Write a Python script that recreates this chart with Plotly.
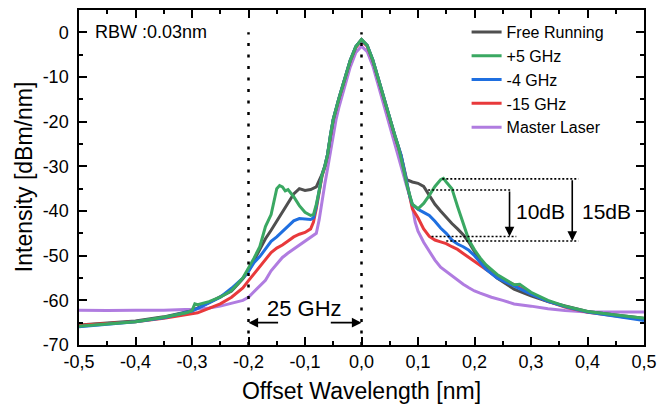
import plotly.graph_objects as go

# ---------------- data ----------------
free_x = [-0.50, -0.45, -0.40, -0.35, -0.30, -0.27, -0.25, -0.23, -0.21, -0.20, -0.19, -0.18, -0.17,
          -0.16, -0.15, -0.14, -0.13, -0.12, -0.11, -0.10, -0.09, -0.08, -0.07, -0.065, -0.06, -0.055,
          -0.05, -0.04, -0.03, -0.02, -0.01, 0.0, 0.01, 0.02, 0.03, 0.04, 0.05, 0.06, 0.07, 0.075, 0.08,
          0.09, 0.10, 0.11, 0.12, 0.13, 0.14, 0.15, 0.16, 0.17, 0.18, 0.19, 0.20, 0.21, 0.22, 0.24,
          0.27, 0.30, 0.33, 0.36, 0.40, 0.45, 0.50]
free_y = [-65.5, -65.1, -64.6, -63.7, -62.3, -60.5, -59.2, -57.9, -55.2, -53.5, -51.0, -48.5, -46.2,
          -44.3, -42.3, -40.5, -38.5, -36.2, -35.0, -35.4, -35.2, -34.6, -31.8, -30.0, -27.3, -23.0,
          -19.5, -14.8, -10.5, -6.3, -3.2, -1.6, -2.9, -6.2, -10.5, -15.0, -19.5, -23.5, -27.5, -30.5, -33.0,
          -33.5, -33.8, -34.5, -36.5, -38.5, -40.0, -41.5, -42.8, -44.0, -45.3, -47.0, -49.2, -51.2, -52.8, -55.0,
          -57.5, -59.0, -60.3, -61.3, -62.5, -63.3, -64.0]

p5_x = [-0.50, -0.45, -0.40, -0.35, -0.31, -0.30, -0.295, -0.29, -0.27, -0.25, -0.23, -0.21, -0.20,
        -0.19, -0.18, -0.175, -0.17, -0.16, -0.155, -0.15, -0.145, -0.14, -0.135, -0.13, -0.12, -0.11,
        -0.10, -0.09, -0.085, -0.08, -0.075, -0.07, -0.065, -0.06, -0.055, -0.05, -0.04, -0.03, -0.02,
        -0.01, 0.0, 0.01, 0.02, 0.03, 0.04, 0.05, 0.06, 0.065, 0.07, 0.075, 0.08, 0.085, 0.09, 0.10,
        0.105, 0.11, 0.12, 0.13, 0.14, 0.145, 0.15, 0.16, 0.17, 0.18, 0.19, 0.20, 0.21, 0.22, 0.24,
        0.27, 0.28, 0.30, 0.33, 0.36, 0.40, 0.45, 0.50]
p5_y = [-65.8, -65.3, -64.8, -63.8, -62.8, -62.3, -60.8, -61.0, -60.3, -59.3, -57.8, -55.0, -52.8,
        -50.5, -48.0, -46.0, -43.5, -40.8, -37.5, -35.0, -34.3, -34.6, -35.5, -35.2, -36.8, -38.8,
        -40.3, -41.0, -40.8, -38.5, -35.5, -32.0, -30.0, -27.3, -23.0, -19.5, -14.8, -10.5, -6.3,
        -3.2, -1.6, -2.9, -6.2, -10.5, -15.0, -19.5, -23.5, -25.5, -28.0, -31.0, -34.0, -36.5, -38.5, -39.5,
        -39.0, -38.3, -36.5, -34.5, -33.0, -32.7, -33.5, -35.0, -39.0, -42.8, -46.5, -48.7, -50.5, -52.0, -54.2,
        -56.5, -56.4, -58.2, -60.0, -61.3, -62.5, -63.3, -64.0]

m4_x = [-0.50, -0.45, -0.40, -0.35, -0.30, -0.27, -0.25, -0.23, -0.21, -0.20, -0.19, -0.18, -0.17,
        -0.16, -0.15, -0.14, -0.13, -0.12, -0.11, -0.10, -0.09, -0.085, -0.08, -0.075, -0.07, -0.065,
        -0.06, -0.055, -0.05, -0.04, -0.03, -0.02, -0.01, 0.0, 0.01, 0.02, 0.03, 0.04, 0.05, 0.06, 0.07,
        0.075, 0.08, 0.085, 0.09, 0.10, 0.11, 0.12, 0.13, 0.14, 0.15, 0.16, 0.17, 0.18, 0.19, 0.20, 0.21,
        0.22, 0.24, 0.27, 0.30, 0.33, 0.36, 0.40, 0.45, 0.50]
m4_y = [-65.9, -65.4, -64.8, -63.9, -62.4, -60.6, -59.3, -57.3, -55.0, -53.5, -51.5, -50.2, -48.5,
        -46.8, -45.8, -44.6, -43.5, -42.2, -41.7, -41.8, -41.9, -41.5, -39.0, -35.5, -32.0, -30.0,
        -27.3, -23.0, -19.5, -14.8, -10.5, -6.3, -3.2, -1.7, -2.9, -6.2, -10.5, -15.0, -19.5, -23.5, -27.5,
        -30.5, -33.8, -36.5, -38.5, -39.6, -40.3, -41.0, -42.3, -43.8, -45.0, -46.5, -47.4, -48.0, -48.8, -50.0, -51.5,
        -53.0, -55.0, -56.8, -58.6, -60.2, -61.4, -62.6, -63.6, -64.5]

m15_x = [-0.50, -0.45, -0.40, -0.35, -0.31, -0.29, -0.27, -0.25, -0.23, -0.22, -0.21, -0.20, -0.19,
         -0.18, -0.17, -0.16, -0.15, -0.14, -0.13, -0.12, -0.11, -0.10, -0.09, -0.085, -0.08, -0.075,
         -0.07, -0.065, -0.06, -0.055, -0.05, -0.04, -0.03, -0.02, -0.01, 0.0, 0.01, 0.02, 0.03, 0.04,
         0.05, 0.06, 0.07, 0.075, 0.08, 0.085, 0.09, 0.10, 0.11, 0.12, 0.13, 0.14, 0.15, 0.16, 0.17,
         0.18, 0.19, 0.20, 0.21, 0.22, 0.24, 0.27, 0.30, 0.33, 0.36, 0.40, 0.45, 0.50]
m15_y = [-65.6, -65.2, -64.8, -64.0, -63.3, -62.8, -61.8, -60.8, -59.3, -58.3, -57.2, -55.6, -54.0,
         -52.5, -50.8, -49.3, -48.3, -47.6, -46.7, -45.8, -45.2, -44.8, -44.0, -42.5, -39.5, -36.0,
         -32.3, -30.2, -27.5, -23.2, -19.7, -15.0, -10.7, -6.5, -3.4, -1.9, -3.1, -6.4, -10.7, -15.2,
         -19.7, -23.7, -27.7, -30.7, -34.0, -37.0, -39.5, -41.5, -44.0, -45.7, -46.5, -46.9, -47.3, -48.0, -48.6,
         -49.5, -50.4, -51.3, -52.3, -53.2, -54.8, -56.5, -58.5, -60.2, -61.5, -62.7, -63.5, -64.3]

ml_x = [-0.50, -0.45, -0.40, -0.35, -0.30, -0.27, -0.25, -0.23, -0.21, -0.20, -0.19, -0.18, -0.17,
        -0.16, -0.15, -0.14, -0.13, -0.12, -0.11, -0.10, -0.09, -0.08, -0.075, -0.07, -0.065, -0.06,
        -0.055, -0.05, -0.045, -0.04, -0.03, -0.02, -0.01, 0.0, 0.01, 0.02, 0.03, 0.04, 0.05, 0.06,
        0.07, 0.08, 0.085, 0.09, 0.095, 0.10, 0.11, 0.12, 0.13, 0.14, 0.15, 0.16, 0.17, 0.18, 0.19,
        0.20, 0.21, 0.23, 0.25, 0.27, 0.30, 0.33, 0.36, 0.40, 0.45, 0.50]
ml_y = [-62.2, -62.3, -62.2, -62.2, -62.0, -61.7, -61.3, -60.7, -60.0, -59.3, -58.0, -56.7, -55.5,
        -53.4, -51.8, -50.4, -49.4, -48.5, -47.6, -46.8, -45.8, -45.0, -42.0, -37.5, -34.0, -30.5,
        -26.5, -22.5, -19.5, -16.8, -12.0, -7.8, -4.5, -3.1, -4.3, -7.5, -12.0, -16.5, -21.5, -25.5,
        -30.5, -34.5, -36.5, -39.0, -42.5, -44.5, -47.0, -49.0, -51.0, -52.6, -53.6, -54.5, -55.5, -56.4, -57.2,
        -57.9, -58.4, -59.3, -60.0, -60.8, -61.3, -61.9, -62.3, -62.6, -62.6, -62.6]

x_tick_vals = [-0.5, -0.4, -0.3, -0.2, -0.1, 0.0, 0.1, 0.2, 0.3, 0.4, 0.5]
x_tick_text = ["-0,5", "-0,4", "-0,3", "-0,2", "-0,1", "0,0", "0,1", "0,2", "0,3", "0,4", "0,5"]
y_tick_vals = [0, -10, -20, -30, -40, -50, -60, -70]
y_tick_text = ["0", "-10", "-20", "-30", "-40", "-50", "-60", "-70"]

FONT = "Liberation Sans, Arial, sans-serif"

fig = go.Figure()
traces = [
    ("Master Laser", ml_x, ml_y, "#b07ce0", 5),
    ("Free Running", free_x, free_y, "#4f4f4f", 1),
    ("-15 GHz", m15_x, m15_y, "#e8393b", 4),
    ("-4 GHz", m4_x, m4_y, "#1f6fe0", 3),
    ("+5 GHz", p5_x, p5_y, "#3aa862", 2),
]
for name, xs, ys, col, rank in traces:
    fig.add_trace(go.Scatter(x=xs, y=ys, name=name, mode="lines",
                             line=dict(color=col, width=3), legendrank=rank))

shapes = []
# vertical dotted markers
for xv in [-0.2, 0.0]:
    shapes.append(dict(type="line", xref="x", yref="y", x0=xv, x1=xv, y0=-70, y1=0,
                       line=dict(color="black", width=2.5, dash="3px,8.5px")))
# horizontal dotted reference lines
for (xa, xb, yv) in [(0.143, 0.384, -32.8), (0.118, 0.265, -35.3),
                     (0.124, 0.274, -45.7), (0.150, 0.384, -46.7)]:
    shapes.append(dict(type="line", xref="x", yref="y", x0=xa, x1=xb, y0=yv, y1=yv,
                       line=dict(color="black", width=1.6, dash="2px,2px")))

annotations = [
    dict(x=0.025, y=0.933, xref="paper", yref="paper", text="RBW :0.03nm", showarrow=False,
         xanchor="left", yanchor="middle", font=dict(size=18, color="black", family=FONT)),
    dict(x=-0.101, y=-61.8, xref="x", yref="y", text="25 GHz", showarrow=False,
         font=dict(size=22, color="black", family=FONT)),
    dict(x=0.317, y=-40.0, xref="x", yref="y", text="10dB", showarrow=False,
         font=dict(size=21, color="black", family=FONT)),
    dict(x=0.433, y=-40.0, xref="x", yref="y", text="15dB", showarrow=False,
         font=dict(size=21, color="black", family=FONT)),
    # arrows
    dict(x=-0.2, y=-65.0, ax=-0.145, ay=-65.0, xref="x", yref="y", axref="x", ayref="y",
         text="", showarrow=True, arrowhead=2, arrowsize=1.2, arrowwidth=1.6, arrowcolor="black"),
    dict(x=0.0, y=-65.0, ax=-0.057, ay=-65.0, xref="x", yref="y", axref="x", ayref="y",
         text="", showarrow=True, arrowhead=2, arrowsize=1.2, arrowwidth=1.6, arrowcolor="black"),
    dict(x=0.262, y=-45.7, ax=0.262, ay=-35.3, xref="x", yref="y", axref="x", ayref="y",
         text="", showarrow=True, arrowhead=2, arrowsize=1.2, arrowwidth=1.6, arrowcolor="black"),
    dict(x=0.373, y=-46.7, ax=0.373, ay=-32.8, xref="x", yref="y", axref="x", ayref="y",
         text="", showarrow=True, arrowhead=2, arrowsize=1.2, arrowwidth=1.6, arrowcolor="black"),
    # y-axis title
    dict(x=-0.098, y=0.5, xref="paper", yref="paper", text="Intensity [dBm/nm]", showarrow=False,
         textangle=-90, xanchor="center", yanchor="middle",
         font=dict(size=23, color="black", family=FONT)),
]

fig.update_layout(
    width=672, height=418,
    margin=dict(l=79, r=28, t=8, b=73),
    paper_bgcolor="white", plot_bgcolor="white",
    font=dict(family=FONT, color="black", size=18),
    shapes=shapes, annotations=annotations,
    legend=dict(x=0.686, y=0.985, xanchor="left", yanchor="top", bgcolor="rgba(0,0,0,0)",
                font=dict(size=16, family=FONT, color="black"), tracegroupgap=0),
    showlegend=True,
)
fig.update_xaxes(range=[-0.5, 0.5], tickvals=x_tick_vals, ticktext=x_tick_text,
                 showline=True, linecolor="black", linewidth=1.5, mirror="allticks",
                 ticks="inside", ticklen=8, tickwidth=1.5, tickcolor="black",
                 minor=dict(ticks="inside", ticklen=4, tickwidth=1.5, tickcolor="black", dtick=0.05,
                            tick0=-0.5, showgrid=False),
                 showgrid=False, zeroline=False, ticklabelstandoff=0,
                 tickfont=dict(size=18, family=FONT, color="black"),
                 title=dict(text="Offset Wavelength [nm]", font=dict(size=23, family=FONT, color="black"),
                            standoff=12))
fig.update_yaxes(range=[-70, 5], tickvals=y_tick_vals, ticktext=y_tick_text,
                 showline=True, linecolor="black", linewidth=1.5, mirror="allticks",
                 ticks="inside", ticklen=8, tickwidth=1.5, tickcolor="black",
                 minor=dict(ticks="inside", ticklen=4, tickwidth=1.5, tickcolor="black", dtick=5,
                            tick0=0, showgrid=False),
                 showgrid=False, zeroline=False, ticklabelstandoff=5,
                 tickfont=dict(size=18, family=FONT, color="black"))

fig.write_html("out.html")
